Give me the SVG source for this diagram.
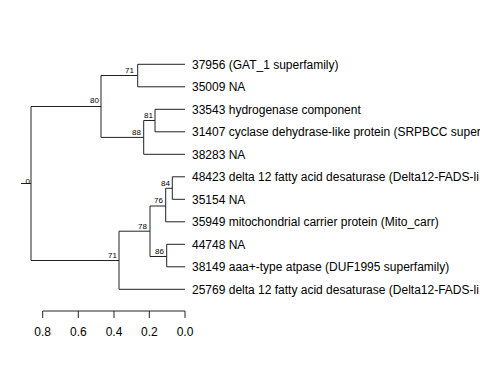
<svg xmlns="http://www.w3.org/2000/svg" width="480" height="384" viewBox="0 0 480 384">
<style>
.br{stroke:#222;stroke-width:1;fill:none}
.tip{font-family:"Liberation Sans",Arial,sans-serif;font-size:12px;fill:#000}
.bs{font-family:"Liberation Sans",Arial,sans-serif;font-size:8px;fill:#000;text-anchor:end}
.ax{font-family:"Liberation Sans",Arial,sans-serif;font-size:12px;fill:#000;text-anchor:middle}
</style>
<rect width="480" height="384" fill="#fff"/>
<g id="connectors" class="br">
<path d="M21,183.5H31M31,106.5V260.5M31,106.5H101M31,260.5H119"/>
<path d="M101,75.5V137.4M101,75.5H137.7M101,137.4H143.7"/>
<path d="M137.7,64.3V86.8M137.7,64.3H185M137.7,86.8H185"/>
<path d="M143.7,120.5V154.3M143.7,120.5H155M143.7,154.3H185"/>
<path d="M155,109.3V131.8M155,109.3H185M155,131.8H185"/>
<path d="M119,231.2V289.3M119,231.2H150M119,289.3H185"/>
<path d="M150,206V256.5M150,206H165.7M150,256.5H166.7"/>
<path d="M165.7,188.3V221.8M165.7,188.3H172.3M165.7,221.8H185"/>
<path d="M172.3,176.8V199.3M172.3,176.8H185M172.3,199.3H185"/>
<path d="M166.7,244.3V266.8M166.7,244.3H185M166.7,266.8H185"/>
</g>
<g id="n_root"><text class="bs" x="30" y="184">0</text></g>
<g id="n80"><text class="bs" x="99" y="103">80</text></g>
<g id="n71a"><text class="bs" x="134" y="73">71</text></g>
<g id="n88"><text class="bs" x="141" y="135">88</text></g>
<g id="n81"><text class="bs" x="153" y="118">81</text></g>
<g id="n71b"><text class="bs" x="117" y="258">71</text></g>
<g id="n78"><text class="bs" x="147" y="229">78</text></g>
<g id="n76"><text class="bs" x="163" y="203">76</text></g>
<g id="n84"><text class="bs" x="170" y="186">84</text></g>
<g id="n86"><text class="bs" x="164" y="254">86</text></g>
<g id="t37956"><text class="tip" x="192" y="68.6">37956 (GAT_1 superfamily)</text></g>
<g id="t35009"><text class="tip" x="192" y="91.1">35009 NA</text></g>
<g id="t33543"><text class="tip" x="192" y="113.6">33543 hydrogenase component</text></g>
<g id="t31407"><text class="tip" x="192" y="136.1">31407 cyclase dehydrase-like protein (SRPBCC super</text></g>
<g id="t38283"><text class="tip" x="192" y="158.6">38283 NA</text></g>
<g id="t48423"><text class="tip" x="192" y="181.1">48423 delta 12 fatty acid desaturase (Delta12-FADS-li</text></g>
<g id="t35154"><text class="tip" x="192" y="203.6">35154 NA</text></g>
<g id="t35949"><text class="tip" x="192" y="226.1">35949 mitochondrial carrier protein (Mito_carr)</text></g>
<g id="t44748"><text class="tip" x="192" y="248.6">44748 NA</text></g>
<g id="t38149"><text class="tip" x="192" y="271.1">38149 aaa+-type atpase (DUF1995 superfamily)</text></g>
<g id="t25769"><text class="tip" x="192" y="293.6">25769 delta 12 fatty acid desaturase (Delta12-FADS-li</text></g>
<g id="axis">
<path class="br" d="M42.7,311H185M42.7,311V318M78.3,311V318M114,311V318M149.3,311V318M185,311V318"/>
<text class="ax" x="42.7" y="336">0.8</text>
<text class="ax" x="78.3" y="336">0.6</text>
<text class="ax" x="114" y="336">0.4</text>
<text class="ax" x="149.3" y="336">0.2</text>
<text class="ax" x="185" y="336">0.0</text>
</g>
</svg>
